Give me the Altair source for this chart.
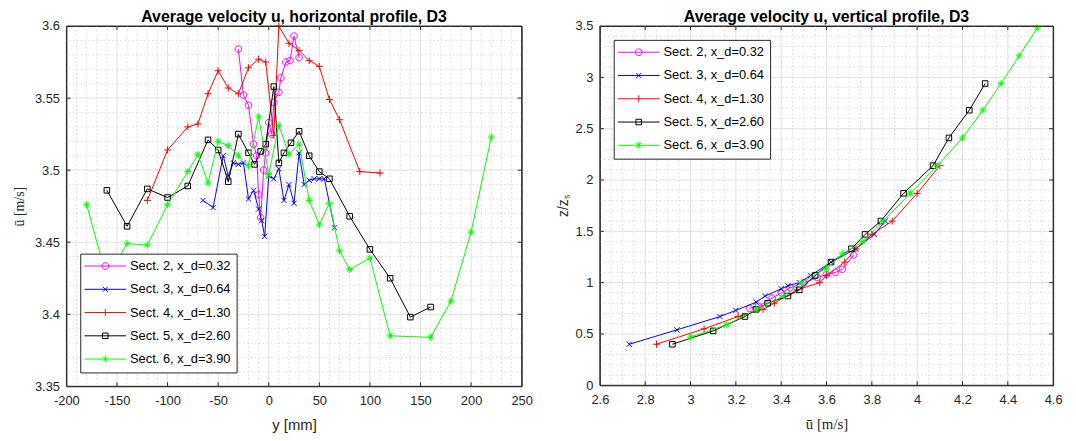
import altair as alt
import pandas as pd

# ---------------- data ----------------
series = ["Sect. 2, x_d=0.32", "Sect. 3, x_d=0.64", "Sect. 4, x_d=1.30",
          "Sect. 5, x_d=2.60", "Sect. 6, x_d=3.90"]
colors = ["#ff00ff", "#0000ff", "#ff0000", "#000000", "#00ff00"]

# horizontal profile: y [mm] and u [m/s]
h2_y = [-30, -25, -20, -15, -12, -10, -8, -5, -3, 0, 3, 5, 10, 12, 17, 21, 25, 30]
h2_u = [3.584, 3.552, 3.545, 3.518, 3.510, 3.483, 3.467, 3.500, 3.512, 3.533, 3.525,
        3.547, 3.554, 3.564, 3.575, 3.576, 3.593, 3.578]
h3_y = [-65, -55, -45, -40, -35, -30, -25, -20, -15, -10, -7, -4, 0, 5, 10, 15, 20, 25,
        30, 35, 40, 45, 50, 55, 65]
h3_u = [3.479, 3.474, 3.510, 3.496, 3.505, 3.504, 3.505, 3.480, 3.486, 3.473, 3.465,
        3.454, 3.496, 3.494, 3.501, 3.479, 3.490, 3.477, 3.512, 3.490, 3.493, 3.494,
        3.494, 3.494, 3.460]
h4_y = [-120, -100, -80, -70, -60, -50, -40, -30, -20, -10, -3, 5, 10, 20, 30, 40, 50,
        60, 70, 90, 110]
h4_u = [3.479, 3.514, 3.530, 3.532, 3.553, 3.569, 3.557, 3.553, 3.571, 3.577, 3.575,
        3.524, 3.600, 3.588, 3.583, 3.576, 3.572, 3.549, 3.535, 3.499, 3.498]
h5_y = [-160, -140, -120, -100, -80, -60, -50, -40, -30, -20, -14, -8, -3, 5, 10, 15,
        22, 30, 40, 50, 60, 80, 100, 120, 140, 160]
h5_u = [3.486, 3.461, 3.487, 3.481, 3.489, 3.521, 3.514, 3.492, 3.525, 3.512, 3.504,
        3.513, 3.518, 3.558, 3.505, 3.512, 3.519, 3.527, 3.510, 3.499, 3.494, 3.468,
        3.445, 3.425, 3.398, 3.405]
h6_y = [-180, -160, -140, -120, -100, -80, -70, -60, -50, -40, -30, -20, -10, 0, 10, 20,
        30, 40, 50, 60, 70, 80, 100, 120, 160, 180, 200, 220]
h6_u = [3.476, 3.425, 3.449, 3.448, 3.476, 3.499, 3.511, 3.491, 3.520, 3.517, 3.510,
        3.503, 3.537, 3.497, 3.531, 3.511, 3.518, 3.479, 3.462, 3.477, 3.444, 3.431,
        3.439, 3.385, 3.384, 3.409, 3.457, 3.523]

# vertical profile: u [m/s] and z/z_s
v2_u = [3.26, 3.30, 3.36, 3.40, 3.44, 3.50, 3.56, 3.60, 3.64, 3.67, 3.72]
v2_z = [0.75, 0.77, 0.85, 0.90, 0.95, 1.00, 1.05, 1.08, 1.10, 1.13, 1.27]
v3_u = [2.73, 2.94, 3.13, 3.20, 3.29, 3.33, 3.40, 3.43, 3.48, 3.53, 3.62, 3.73, 3.81, 3.86]
v3_z = [0.40, 0.54, 0.67, 0.73, 0.81, 0.87, 0.94, 0.97, 1.00, 1.07, 1.20, 1.33, 1.47, 1.60]
v4_u = [2.85, 3.06, 3.21, 3.32, 3.37, 3.47, 3.57, 3.60, 3.68, 3.73, 3.80, 3.89, 4.00, 4.10]
v4_z = [0.40, 0.55, 0.67, 0.74, 0.80, 0.93, 1.00, 1.07, 1.20, 1.33, 1.47, 1.60, 1.87, 2.14]
v5_u = [2.92, 3.10, 3.24, 3.29, 3.34, 3.43, 3.48, 3.55, 3.62, 3.71, 3.77, 3.84, 3.94,
        4.07, 4.14, 4.23, 4.30]
v5_z = [0.40, 0.53, 0.67, 0.74, 0.80, 0.87, 0.93, 1.07, 1.20, 1.33, 1.47, 1.60, 1.87,
        2.14, 2.41, 2.68, 2.94]
v6_u = [3.00, 3.16, 3.29, 3.41, 3.49, 3.60, 3.67, 3.76, 3.85, 3.97, 4.09, 4.20, 4.29,
        4.37, 4.45, 4.53]
v6_z = [0.47, 0.59, 0.74, 0.87, 1.00, 1.14, 1.28, 1.40, 1.60, 1.87, 2.14, 2.41, 2.68,
        2.94, 3.21, 3.48]

# axis ticks
h_xticks = [-200, -150, -100, -50, 0, 50, 100, 150, 200, 250]
h_yticks = [3.35, 3.4, 3.45, 3.5, 3.55, 3.6]
v_xticks = [2.6, 2.8, 3, 3.2, 3.4, 3.6, 3.8, 4, 4.2, 4.4, 4.6]
v_yticks = [0, 0.5, 1, 1.5, 2, 2.5, 3, 3.5]

# ---------------- styling helpers ----------------
marker_paths = [
    "M0.95,0A0.95,0.95,0,1,1,-0.95,0A0.95,0.95,0,1,1,0.95,0Z",
    "M-0.75,-0.75L0.75,0.75M-0.75,0.75L0.75,-0.75",
    "M-1,0L1,0M0,-1L0,1",
    "M-0.8,-0.8L0.8,-0.8L0.8,0.8L-0.8,0.8Z",
    "M-1,0L1,0M0,-1L0,1M-0.7,-0.7L0.7,0.7M-0.7,0.7L0.7,-0.7",
]
LS = 100  # legend symbol size -> 1 path unit = 5 px
legend_paths = [
    "M-4.2,0L4.2,0M0.68,0A0.68,0.68,0,1,1,-0.68,0A0.68,0.68,0,1,1,0.68,0",
    "M-4.2,0L4.2,0M-0.5,-0.5L0.5,0.5M-0.5,0.5L0.5,-0.5",
    "M-4.2,0L4.2,0M0,-0.7L0,0.7",
    "M-4.2,0L4.2,0M-0.56,-0.56L0.56,-0.56L0.56,0.56L-0.56,0.56Z",
    "M-4.2,0L4.2,0M0,-0.7L0,0.7M-0.5,-0.5L0.5,0.5M-0.5,0.5L0.5,-0.5",
]

FONT = "Liberation Sans"
AX = "#262626"


def minor_values(lo, hi, step, majors):
    out = []
    n = int(round((hi - lo) / step))
    for i in range(1, n):
        v = round(lo + i * step, 4)
        if all(abs(v - m) > 1e-9 for m in majors):
            out.append(v)
    return out


def panel(xs, ys, xdom, ydom, xticks, yticks, xstep, ystep, title, xtitle, ytitle,
          xtitle_font, ytitle_font, y_extent, y_title_pad, legend_orient, w, h):
    xscale = alt.Scale(domain=xdom, nice=False, zero=False)
    yscale = alt.Scale(domain=ydom, nice=False, zero=False)
    xaxis = alt.Axis(values=xticks, title=xtitle, labelExpr="'' + datum.value",
                     titleFont=xtitle_font, titleFontSize=15, titleFontWeight="normal",
                     titleColor=AX, titlePadding=11, labelPadding=8)
    yaxis = alt.Axis(values=yticks, title=ytitle, labelExpr="'' + datum.value",
                     titleFont=ytitle_font, titleFontSize=14, titleFontWeight="normal",
                     titleColor=AX, titlePadding=y_title_pad, labelPadding=7,
                     minExtent=y_extent, maxExtent=y_extent)
    X = lambda f: alt.X(f, type="quantitative", scale=xscale, axis=xaxis)
    Y = lambda f: alt.Y(f, type="quantitative", scale=yscale, axis=yaxis)
    X2 = lambda f: alt.X2(f)
    Y2 = lambda f: alt.Y2(f)

    layers = []
    xminor = minor_values(xdom[0], xdom[1], xstep, xticks)
    yminor = minor_values(ydom[0], ydom[1], ystep, yticks)
    layers.append(alt.Chart(pd.DataFrame({"v": xminor})).mark_rule(
        color="#cfcfcf", strokeWidth=0.8, strokeDash=[1.5, 2.5]).encode(x=X("v")))
    layers.append(alt.Chart(pd.DataFrame({"v": yminor})).mark_rule(
        color="#cfcfcf", strokeWidth=0.8, strokeDash=[1.5, 2.5]).encode(y=Y("v")))
    layers.append(alt.Chart(pd.DataFrame({"v": xticks[1:-1]})).mark_rule(
        color="#e0e0e0", strokeWidth=1).encode(x=X("v")))
    layers.append(alt.Chart(pd.DataFrame({"v": yticks[1:-1]})).mark_rule(
        color="#e0e0e0", strokeWidth=1).encode(y=Y("v")))

    for i in range(len(series)):
        df = pd.DataFrame({"a": xs[i], "b": ys[i], "o": list(range(len(xs[i])))})
        base = alt.Chart(df)
        layers.append(base.mark_line(color=colors[i], strokeWidth=1).encode(
            x=X("a"), y=Y("b"), order="o:Q"))
        layers.append(base.mark_point(shape=marker_paths[i], color=colors[i], filled=False,
                                      size=49, strokeWidth=1, opacity=1).encode(
            x=X("a"), y=Y("b")))

    # axes box with inward ticks (MATLAB style)
    xr = xdom[1] - xdom[0]
    yr = ydom[1] - ydom[0]
    tk_x = 4.0 / w * xr
    tk_y = 4.0 / h * yr
    inner_x = xticks[1:-1]
    inner_y = yticks[1:-1]
    tb = pd.DataFrame({"a": inner_x + inner_x,
                       "b": [ydom[0]] * len(inner_x) + [ydom[1]] * len(inner_x),
                       "b2": [ydom[0] + tk_y] * len(inner_x) + [ydom[1] - tk_y] * len(inner_x)})
    layers.append(alt.Chart(tb).mark_rule(color=AX, strokeWidth=1).encode(
        x=X("a"), y=Y("b"), y2=Y2("b2")))
    lr = pd.DataFrame({"b": inner_y + inner_y,
                       "a": [xdom[0]] * len(inner_y) + [xdom[1]] * len(inner_y),
                       "a2": [xdom[0] + tk_x] * len(inner_y) + [xdom[1] - tk_x] * len(inner_y)})
    layers.append(alt.Chart(lr).mark_rule(color=AX, strokeWidth=1).encode(
        y=Y("b"), x=X("a"), x2=X2("a2")))
    layers.append(alt.Chart(pd.DataFrame({"v": xdom})).mark_rule(
        color=AX, strokeWidth=1).encode(x=X("v")))
    layers.append(alt.Chart(pd.DataFrame({"v": ydom})).mark_rule(
        color=AX, strokeWidth=1).encode(y=Y("v")))

    leg = alt.Legend(title=None, orient=legend_orient, offset=14, padding=6,
                     fillColor="white", strokeColor=AX, labelFont=FONT, labelFontSize=13,
                     labelColor="#000000", symbolSize=LS, symbolStrokeWidth=1,
                     symbolOffset=12.8, labelOffset=18.5, rowPadding=9.5,
                     cornerRadius=0)
    ldf = pd.DataFrame({"s": series})
    layers.append(alt.Chart(ldf).mark_point(filled=False, size=LS, strokeWidth=1,
                                            opacity=1).encode(
        color=alt.Color("s:N", scale=alt.Scale(domain=series, range=colors), legend=leg),
        shape=alt.Shape("s:N", scale=alt.Scale(domain=series, range=legend_paths),
                        legend=leg),
    ).transform_filter("false"))

    return alt.layer(*layers).properties(
        width=w, height=h,
        title=alt.TitleParams(title, font=FONT, fontSize=16, fontWeight="bold",
                              color="#000000", anchor="middle", offset=-5))


left = panel([h2_y, h3_y, h4_y, h5_y, h6_y], [h2_u, h3_u, h4_u, h5_u, h6_u],
             [-200, 250], [3.35, 3.6], h_xticks, h_yticks, 10, 0.01,
             "Average velocity u, horizontal profile, D3", "y [mm]", "ū [m/s]",
             FONT, "Liberation Serif", 33, 7, "bottom-left", 460, 364)
right = panel([v2_u, v3_u, v4_u, v5_u, v6_u], [v2_z, v3_z, v4_z, v5_z, v6_z],
              [2.6, 4.6], [0, 3.5], v_xticks, v_yticks, 0.05, 0.1,
              "Average velocity u, vertical profile, D3", "ū [m/s]", "z/zₛ",
              "Liberation Serif", FONT, 26, 4, "top-left", 458, 363)

chart = alt.hconcat(left, right, spacing=22).properties(
    padding={"left": 4, "top": -2, "right": 5, "bottom": 0}
).configure_view(stroke=AX, strokeWidth=1).configure_axis(
    labelFont=FONT, labelFontSize=13, labelColor=AX, ticks=False, domain=False,
    grid=False, labelFlush=False, labelOverlap=False, labelBound=False
).configure_legend(symbolSize=LS)

chart.save("out.html", embed_options={"renderer": "svg", "actions": False})
